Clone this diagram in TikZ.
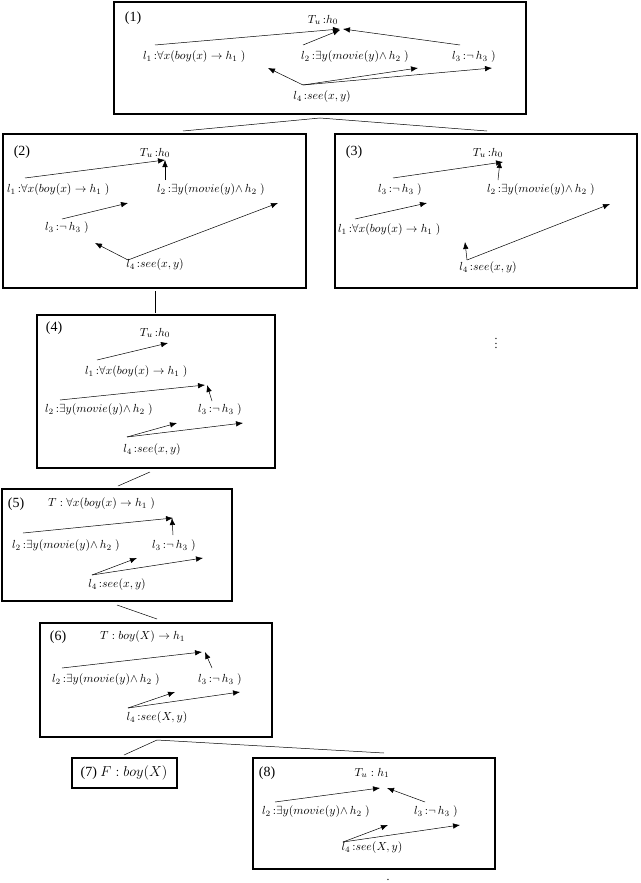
\documentclass[tikz,border=0pt]{standalone}
\usepackage{fontspec}
\setmainfont{Liberation Serif}
\usetikzlibrary{arrows.meta}
\begin{document}
\begin{tikzpicture}[x=1pt,y=-1pt,
  box/.style={draw,line width=1.2pt},
  tx/.style={anchor=west,inner sep=0pt,font=\normalsize,scale=1.17,transform shape},
  lb/.style={anchor=center,inner sep=0pt,font=\normalsize,scale=1.17,transform shape},
  nb/.style={anchor=center,inner sep=0pt,font=\fontsize{14}{16}\selectfont},
  ar/.style={-{Latex[length=7pt,width=5.5pt]},line width=0.5pt},
  tr/.style={line width=0.5pt}]
\useasboundingbox (0,0) rectangle (640,883);
% boxes
\draw[box] (114,2) rectangle (526,114);
\draw[box] (3,134) rectangle (306,288);
\draw[box] (335,134) rectangle (637,288);
\draw[box] (37,315) rectangle (275,468);
\draw[box] (2,489) rectangle (232,601);
\draw[box] (40,623) rectangle (272,737);
\draw[box] (72,758) rectangle (177,788);
\draw[box] (253,758) rectangle (495,869);
% tree
\draw[tr] (183,131) -- (320,118) -- (487,131);
\draw[tr] (155,291) -- (155,313);
\draw[tr] (150,472) -- (118,486);
\draw[tr] (117,605) -- (157,619);
\draw[tr] (124,755) -- (157,740) -- (384,753);
\node[lb] (dots) at (496,340) {$\vdots$};
\node[lb] (dot2) at (388,880) {.};
% Box 1
\node[nb] (n1) at (133,18) {(1)};
\node[lb] (a0) at (323,20) {$T_u\,{:}h_0$};
\node[tx] (a1) at (143,57) {$l_1\,{:}\forall x(boy(x)\rightarrow h_1\;)$};
\node[tx] (a2) at (301,57) {$l_2\,{:}\exists y(movie(y){\wedge}\, h_2\;)$};
\node[tx] (a3) at (452,57) {$l_3\,{:}\neg\, h_3\;)$};
\node[lb] (a4) at (322,97) {$l_4\,{:}see(x,y)$};
\draw[ar] (155,45) -- (340,29);
\draw[ar] (303,45) -- (340,30);
\draw[ar] (460,45) -- (343,29);
\draw[ar] (303,85) -- (268,68);
\draw[ar] (303,85) -- (418,68);
\draw[ar] (303,85) -- (492,68);
% Box 2
\node[nb] (n2) at (22,152) {(2)};
\node[lb] (b0) at (155,153) {$T_u\,{:}h_0$};
\node[tx] (b1) at (7,190) {$l_1\,{:}\forall x(boy(x)\rightarrow h_1\;)$};
\node[tx] (b2) at (157,190) {$l_2\,{:}\exists y(movie(y){\wedge}\, h_2\;)$};
\node[tx] (b3) at (45,228) {$l_3\,{:}\neg\, h_3\;)$};
\node[lb] (b4) at (155,265) {$l_4\,{:}see(x,y)$};
\draw[ar] (25,178) -- (165,160);
\draw[ar] (165,180) -- (165,160);
\draw[ar] (62,219) -- (128,203);
\draw[ar] (128,260) -- (95,243);
\draw[ar] (128,260) -- (278,203);
% Box 3
\node[nb] (n3) at (354,152) {(3)};
\node[lb] (c0) at (488,153) {$T_u\,{:}h_0$};
\node[tx] (c3) at (378,190) {$l_3\,{:}\neg\, h_3\;)$};
\node[tx] (c2) at (487,190) {$l_2\,{:}\exists y(movie(y){\wedge}\, h_2\;)$};
\node[tx] (c1) at (338,230) {$l_1\,{:}\forall x(boy(x)\rightarrow h_1\;)$};
\node[lb] (c4) at (488,268) {$l_4\,{:}see(x,y)$};
\draw[ar] (393,178) -- (503,162);
\draw[ar] (498,180) -- (500,161);
\draw[ar] (355,219) -- (427,203);
\draw[ar] (467,260) -- (465,242);
\draw[ar] (467,260) -- (610,204);
% Box 4
\node[nb] (n4) at (54,328) {(4)};
\node[lb] (d0) at (155,333) {$T_u\,{:}h_0$};
\node[tx] (d1) at (85,372) {$l_1\,{:}\forall x(boy(x)\rightarrow h_1\;)$};
\node[tx] (d2) at (45,410) {$l_2\,{:}\exists y(movie(y){\wedge}\, h_2\;)$};
\node[tx] (d3) at (198,410) {$l_3\,{:}\neg\, h_3\;)$};
\node[lb] (d4) at (152,450) {$l_4\,{:}see(x,y)$};
\draw[ar] (97,360) -- (168,343);
\draw[ar] (60,400) -- (205,385);
\draw[ar] (212,401) -- (207,385);
\draw[ar] (127,437) -- (177,423);
\draw[ar] (127,437) -- (243,423);
% Box 5
\node[nb] (n5) at (16,504) {(5)};
\node[tx] (e0) at (48,504) {$T:\forall x(boy(x)\rightarrow h_1\;)$};
\node[tx] (e2) at (12,546) {$l_2\,{:}\exists y(movie(y){\wedge}\, h_2\;)$};
\node[tx] (e3) at (152,546) {$l_3\,{:}\neg\, h_3\;)$};
\node[lb] (e4) at (117,585) {$l_4\,{:}see(x,y)$};
\draw[ar] (23,533) -- (173,518);
\draw[ar] (173,535) -- (172,518);
\draw[ar] (92,575) -- (137,558);
\draw[ar] (92,575) -- (203,558);
% Box 6
\node[nb] (n6) at (58,637) {(6)};
\node[tx] (f0) at (100,637) {$T:boy(X)\rightarrow h_1$};
\node[tx] (f2) at (52,680) {$l_2\,{:}\exists y(movie(y){\wedge}\, h_2\;)$};
\node[tx] (f3) at (198,680) {$l_3\,{:}\neg\, h_3\;)$};
\node[lb] (f4) at (157,718) {$l_4\,{:}see(X,y)$};
\draw[ar] (62,668) -- (202,652);
\draw[ar] (212,668) -- (205,652);
\draw[ar] (128,708) -- (175,692);
\draw[ar] (128,708) -- (240,692);
% Box 7
\node[nb] (g) at (124,773) {(7) $F:boy(X)$};
% Box 8
\node[nb] (n8) at (267,773) {(8)};
\node[lb] (h0) at (372,773) {$T_u:h_1$};
\node[tx] (h2) at (262,812) {$l_2\,{:}\exists y(movie(y){\wedge}\, h_2\;)$};
\node[tx] (h3) at (414,812) {$l_3\,{:}\neg\, h_3\;)$};
\node[lb] (h4) at (372,848) {$l_4\,{:}see(X,y)$};
\draw[ar] (275,802) -- (380,788);
\draw[ar] (425,802) -- (387,788);
\draw[ar] (343,842) -- (388,825);
\draw[ar] (343,842) -- (460,825);
\end{tikzpicture}
\end{document}
